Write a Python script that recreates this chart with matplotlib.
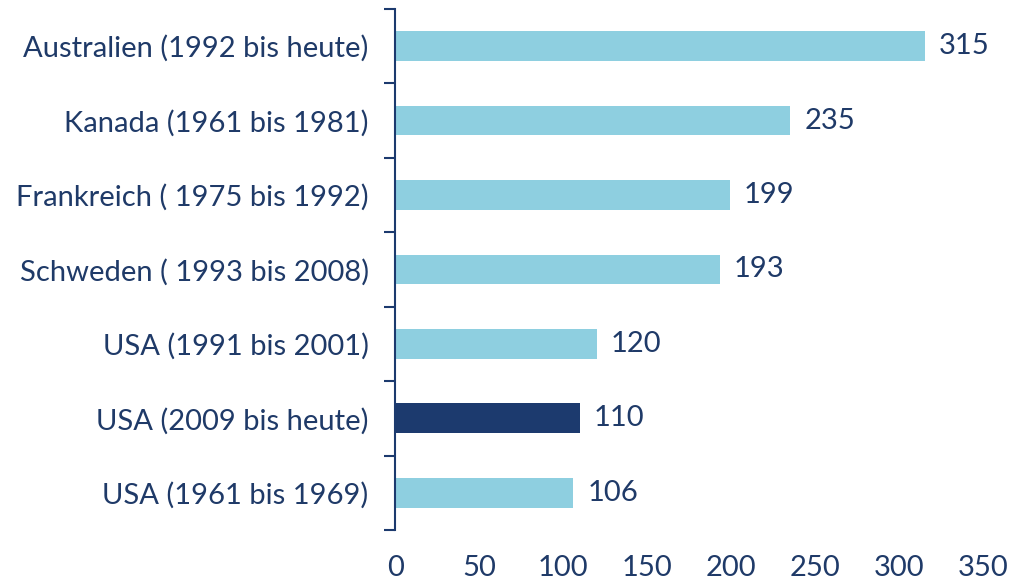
import numpy as np
import matplotlib
matplotlib.use("Agg")
from matplotlib import pyplot as plt

# data
labels = ["Australien (1992 bis heute)", "Kanada (1961 bis 1981)",
          "Frankreich ( 1975 bis 1992)", "Schweden ( 1993 bis 2008)",
          "USA (1991 bis 2001)", "USA (2009 bis heute)", "USA (1961 bis 1969)"]
values = [315, 235, 199, 193, 120, 110, 106]
highlight = "USA (2009 bis heute)"

navy = "#1c3a6e"
light = "#8ecfe0"
txt = "#1f3a68"

plt.rcParams['font.family'] = ['Lato', 'DejaVu Sans']
fs = 21

fig = plt.figure(figsize=(10.13, 5.87), dpi=100)
ax = fig.add_axes([0.39, 0.097, 0.581, 0.888])

pos = np.arange(len(labels))
colors = [navy if l == highlight else light for l in labels]
bars = ax.barh(pos, values, height=0.4, color=colors)
ax.bar_label(bars, labels=[str(v) for v in values], padding=10,
             fontsize=fs, color=txt)

ax.set_ylim(len(labels) - 0.5, -0.5)
ax.set_xlim(0, 350)
ax.set_xticks(np.arange(0, 351, 50))
ax.set_yticks(pos)
ax.set_yticklabels(labels)
ax.set_yticks(np.arange(len(labels) + 1) - 0.5, minor=True)

for s in ["top", "right", "bottom"]:
    ax.spines[s].set_visible(False)
ax.spines["left"].set_color(navy)
ax.spines["left"].set_linewidth(1.5)

ax.tick_params(axis="y", which="major", length=0, pad=19, labelsize=fs, labelcolor=txt)
ax.tick_params(axis="y", which="minor", length=8, width=1.5, color=navy)
ax.tick_params(axis="x", length=0, pad=18, labelsize=fs, labelcolor=txt)

fig.savefig("out.png", dpi=100)
